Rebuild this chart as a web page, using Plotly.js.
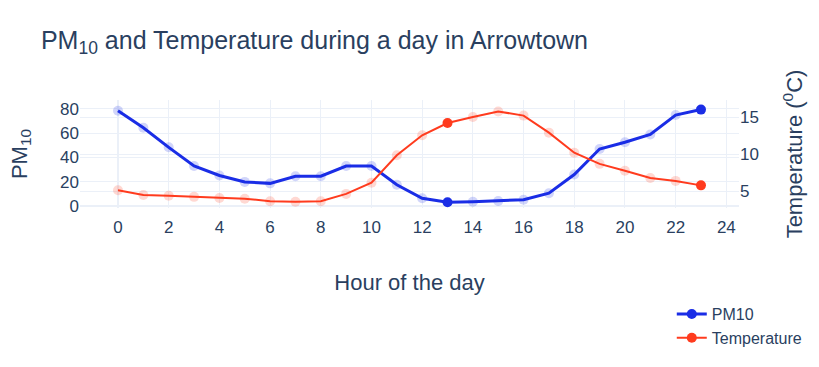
<!DOCTYPE html>
<html>
<head>
<meta charset="utf-8">
<script src="https://cdn.plot.ly/plotly-3.0.1.min.js"></script>
<style>html,body{margin:0;padding:0;background:#fff;}#chart{width:819px;height:367px;}</style>
</head>
<body>
<div id="chart"></div>
<script>
var hours = [0,1,2,3,4,5,6,7,8,9,10,11,12,13,14,15,16,17,18,19,20,21,22,23];
var pm10 = [78.5,64.5,48.4,33,25.2,19.9,18.7,24.6,24.6,33,33,17.6,6.4,3.1,3.6,4.2,5.2,10.6,26,47,52.6,59,75,79.5];
var temperature = [5.13,4.5,4.4,4.25,4.1,4.0,3.67,3.6,3.67,4.65,6.15,9.85,12.55,14.2,15.0,15.76,15.2,12.9,10.2,8.7,7.76,6.8,6.4,5.8];
var selectedHours = [13,23];
var xTicks = [0,2,4,6,8,10,12,14,16,18,20,22,24];

var grid = '#EBF0F8';
var traces = [
  {x: hours, y: pm10, name: 'PM10', type: 'scatter', mode: 'lines+markers',
   line: {color: '#1a2de6', width: 3}, marker: {color: '#1a2de6', size: 10},
   selectedpoints: selectedHours, unselected: {marker: {opacity: 0.2}}, yaxis: 'y'},
  {x: hours, y: temperature, name: 'Temperature', type: 'scatter', mode: 'lines+markers',
   line: {color: '#ff3b1e', width: 2}, marker: {color: '#ff3b1e', size: 10},
   selectedpoints: selectedHours, unselected: {marker: {opacity: 0.2}}, yaxis: 'y2'}
];
var layout = {
  width: 819, height: 367,
  margin: {l: 80, r: 80, t: 100, b: 159},
  paper_bgcolor: '#fff', plot_bgcolor: '#fff',
  font: {family: 'Arial, "Liberation Sans", sans-serif', color: '#2a3f5f', size: 17},
  title: {text: 'PM<sub>10</sub> and Temperature during a day in Arrowtown', font: {size: 25},
          x: 0.05, xanchor: 'left', yref: 'container', y: 0.89, yanchor: 'middle'},
  xaxis: {range: [-1.5, 24.5], tickvals: xTicks, gridcolor: grid, zerolinecolor: grid, zerolinewidth: 2,
          ticks: 'outside', ticklen: 4, tickcolor: 'rgba(0,0,0,0)',
          showline: false, automargin: false,
          title: {text: 'Hour of the day', font: {size: 22}, standoff: 38}},
  yaxis: {range: [-1.6, 87.4], tickvals: [0,20,40,60,80], gridcolor: grid, zerolinecolor: grid, zerolinewidth: 2,
          automargin: false, title: {text: 'PM<sub>10</sub>', font: {size: 22}, standoff: 26}},
  yaxis2: {overlaying: 'y', side: 'right', range: [2.75, 17.3], tickvals: [5,10,15], gridcolor: grid,
           zerolinecolor: grid, automargin: false,
           title: {text: 'Temperature (<sup>0</sup>C)', font: {size: 22}, standoff: 28}},
  legend: {x: 0.898, xanchor: 'left', y: -0.825, yanchor: 'top', font: {size: 16}, bgcolor: 'rgba(0,0,0,0)'},
  showlegend: true
};
Plotly.newPlot('chart', traces, layout, {displayModeBar: false});
</script>
</body>
</html>
